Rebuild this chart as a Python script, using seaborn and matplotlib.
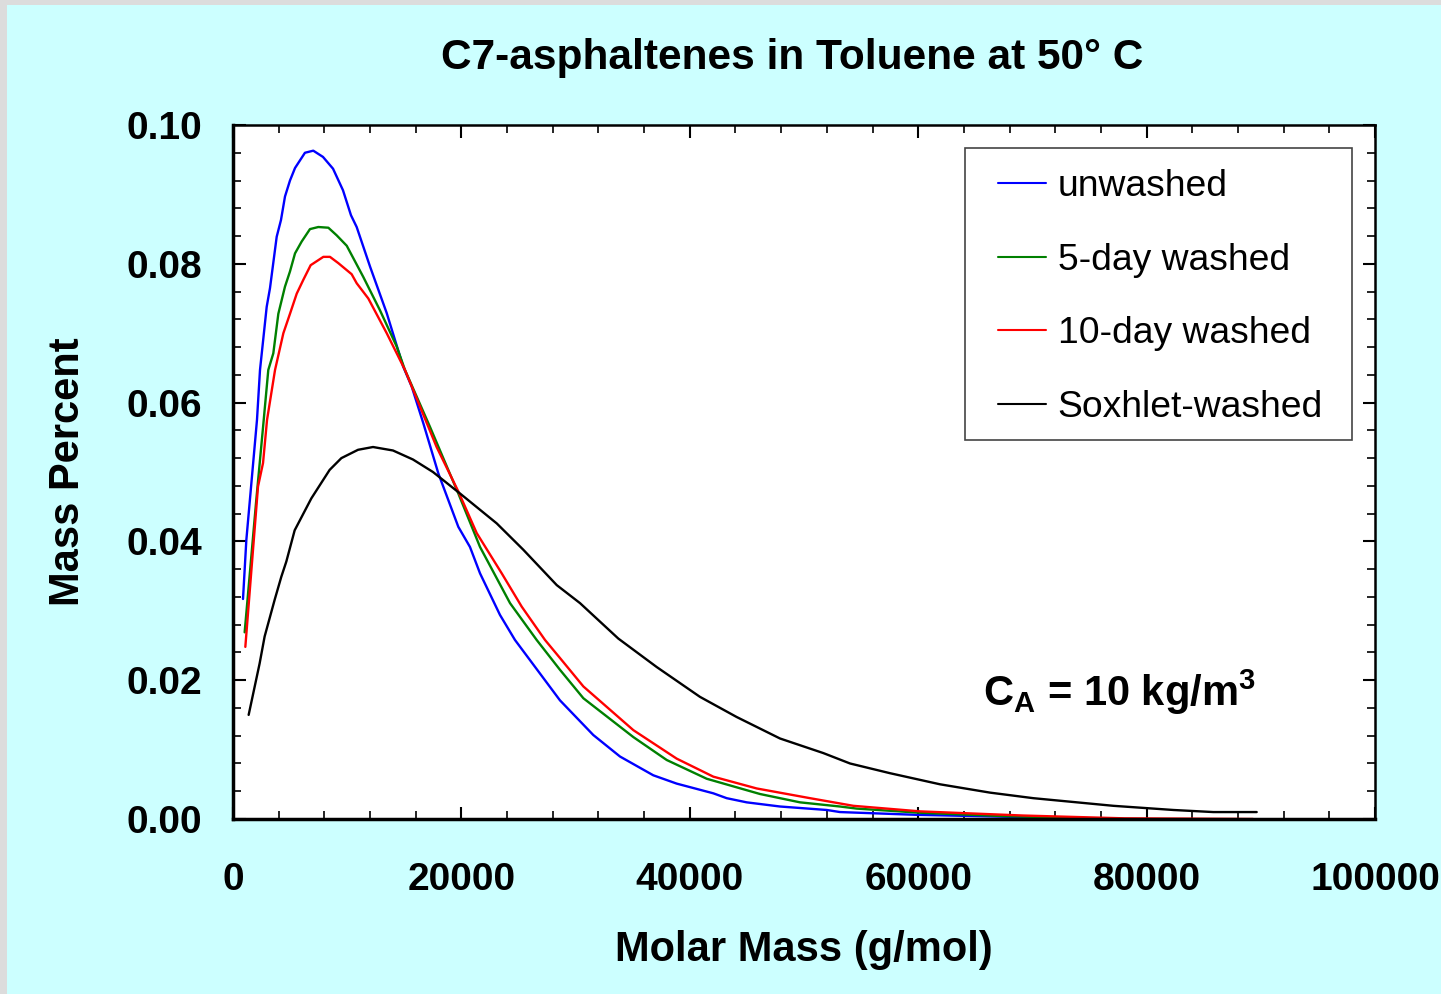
import numpy as np
import pandas as pd
import matplotlib
matplotlib.use("Agg")
import matplotlib.pyplot as plt
from matplotlib.patches import Rectangle
import seaborn as sns

# ---- data ----
unwashed_x = [876, 1168, 2100, 2364, 2950, 3240, 3826, 4200, 4553, 4990, 5430, 6300, 7030,
              7880, 8760, 9630, 10330, 10830, 12000, 13460, 14900, 15650, 16670, 17980, 19730,
              20750, 21630, 23380, 24690, 28630, 31550, 33890, 36800, 38850, 42060, 43230,
              44980, 47900, 51990, 53150, 59870, 74170]
unwashed_y = [0.0317, 0.0402, 0.0575, 0.0647, 0.0738, 0.0765, 0.0839, 0.0863, 0.0897, 0.0920,
              0.0938, 0.0960, 0.0963, 0.0954, 0.0937, 0.0906, 0.0870, 0.0853, 0.0796, 0.0729,
              0.0652, 0.0623, 0.0570, 0.0498, 0.0421, 0.0392, 0.0354, 0.0294, 0.0258, 0.0171,
              0.0121, 0.0090, 0.0063, 0.0051, 0.0037, 0.0030, 0.0024, 0.0018, 0.0013, 0.0010,
              0.0006, 0.0001]

day5_x = [1020, 2040, 2690, 3090, 3530, 3970, 4550, 4990, 5430, 6010, 6740, 7470, 8350, 9080,
          9960, 10540, 11410, 12870, 14330, 15060, 17250, 19730, 21630, 24260, 26590, 28630,
          30680, 35060, 37980, 41480, 46150, 49650, 53150, 54610, 60160, 67750, 78000]
day5_y = [0.0269, 0.0460, 0.0575, 0.0647, 0.0671, 0.0728, 0.0767, 0.0789, 0.0815, 0.0832,
          0.0850, 0.0853, 0.0852, 0.0841, 0.0826, 0.0808, 0.0781, 0.0733, 0.0681, 0.0647,
          0.0565, 0.0469, 0.0392, 0.0311, 0.0258, 0.0215, 0.0174, 0.0118, 0.0085, 0.0058,
          0.0036, 0.0024, 0.0018, 0.0015, 0.0009, 0.0004, 0.0000]

day10_x = [1080, 2190, 2630, 2980, 3680, 4410, 4990, 5580, 6160, 6800, 7910, 8490, 9220, 10390,
           10830, 11850, 13460, 15060, 17830, 19730, 21340, 23530, 25280, 27320, 28630, 30680,
           35060, 38850, 42060, 45860, 50530, 54320, 60160, 69200, 77960, 89320]
day10_y = [0.0248, 0.0479, 0.0513, 0.0575, 0.0647, 0.0700, 0.0728, 0.0757, 0.0777, 0.0798,
           0.0810, 0.0810, 0.0801, 0.0785, 0.0772, 0.0750, 0.0700, 0.0647, 0.0536, 0.0472,
           0.0412, 0.0354, 0.0306, 0.0258, 0.0232, 0.0191, 0.0128, 0.0087, 0.0061, 0.0044,
           0.0030, 0.0019, 0.0011, 0.0005, 0.0001, 0.0000]

soxhlet_x = [1370, 2330, 2770, 3650, 4230, 4670, 5400, 6860, 8460, 9490, 10950, 12260, 14010,
             15760, 17510, 19880, 23090, 25420, 28350, 30390, 33740, 37100, 40890, 44100,
             47900, 51690, 54030, 57530, 61910, 66290, 70080, 77090, 82340, 85840, 89640]
soxhlet_y = [0.0150, 0.0224, 0.0263, 0.0316, 0.0349, 0.0371, 0.0416, 0.0462, 0.0503, 0.0520,
             0.0532, 0.0536, 0.0531, 0.0518, 0.0500, 0.0469, 0.0426, 0.0388, 0.0337, 0.0311,
             0.0260, 0.0219, 0.0176, 0.0147, 0.0116, 0.0095, 0.0080, 0.0066, 0.0050, 0.0038,
             0.0030, 0.0019, 0.0013, 0.0010, 0.0010]

series_names = ["unwashed", "5-day washed", "10-day washed", "Soxhlet-washed"]
series_colors = ["#0000ff", "#008000", "#ff0000", "#000000"]

x_ticks = [0, 20000, 40000, 60000, 80000, 100000]
y_ticks = [0.00, 0.02, 0.04, 0.06, 0.08, 0.10]

# ---- long table for seaborn ----
frames = []
for name, xs, ys in zip(series_names,
                        [unwashed_x, day5_x, day10_x, soxhlet_x],
                        [unwashed_y, day5_y, day10_y, soxhlet_y]):
    frames.append(pd.DataFrame({"mass": xs, "pct": ys, "sample": name}))
df = pd.concat(frames, ignore_index=True)

# ---- style ----
sns.set_theme(style="ticks")
plt.rcParams["font.family"] = ["Liberation Sans", "DejaVu Sans"]
plt.rcParams["text.color"] = "black"
plt.rcParams["axes.labelcolor"] = "black"
plt.rcParams["xtick.color"] = "black"
plt.rcParams["ytick.color"] = "black"
plt.rcParams["mathtext.fontset"] = "custom"
plt.rcParams["mathtext.rm"] = "Liberation Sans:bold"
plt.rcParams["mathtext.bf"] = "Liberation Sans:bold"
plt.rcParams["mathtext.it"] = "Liberation Sans:bold"

W, H = 1441, 994
bg = "#ccffff"
fig = plt.figure(figsize=(W / 100, H / 100), dpi=100, facecolor=bg)
# light grey frame strips on the left and top edges
fig.patches.append(Rectangle((0, 0), 7 / W, 1, transform=fig.transFigure,
                             facecolor="#dcdcdc", edgecolor="none", zorder=0))
fig.patches.append(Rectangle((0, 1 - 5 / H), 1, 5 / H, transform=fig.transFigure,
                             facecolor="#dcdcdc", edgecolor="none", zorder=0))

ax = fig.add_axes([233 / W, 1 - 819 / H, (1375 - 233) / W, (819 - 125) / H])
ax.set_facecolor("white")

sns.lineplot(data=df, x="mass", y="pct", hue="sample", hue_order=series_names,
             palette=series_colors, sort=False, estimator=None, linewidth=1.7, ax=ax)

ax.set_xlim(0, 100000)
ax.set_ylim(0, 0.10)
ax.set_xticks(x_ticks)
ax.set_xticklabels([f"{v:d}" for v in x_ticks])
ax.set_yticks(y_ticks)
ax.set_yticklabels([f"{v:.2f}" for v in y_ticks])
ax.set_xticks(np.arange(0, 100001, 4000), minor=True)
ax.set_yticks(np.arange(0, 0.1001, 0.004), minor=True)

ax.tick_params(which="major", direction="in", length=9, width=1.5, top=True, right=True,
               labelsize=28, color="black", labelcolor="black")
ax.tick_params(which="minor", direction="in", length=6, width=1.2, top=True, right=True,
               color="black")
ax.tick_params(axis="x", which="major", pad=31)
ax.tick_params(axis="y", which="major", pad=22)
for lab in ax.get_xticklabels() + ax.get_yticklabels():
    lab.set_fontweight("bold")

for side in ["left", "bottom"]:
    ax.spines[side].set_linewidth(2.5)
for side in ["top", "right"]:
    ax.spines[side].set_linewidth(1.8)
for s in ax.spines.values():
    s.set_color("black")

ax.set_xlabel("Molar Mass (g/mol)", fontsize=30, fontweight="bold", labelpad=23)
ax.set_ylabel("Mass Percent", fontsize=30, fontweight="bold", labelpad=28)
ax.set_title("C7-asphaltenes in Toluene at 50° C", fontsize=30.5, fontweight="bold",
             pad=40, x=0.49)

ax.text(0.657, 0.182, r"$\mathbf{C_A}$ = 10 kg/m$^{\mathbf{3}}$", transform=ax.transAxes,
        fontsize=30, fontweight="bold", ha="left", va="center")

# legend frame box (drawn inside the axes, below the legend entries)
ax.add_patch(Rectangle((965 / W, 1 - 440 / H), (1352 - 965) / W, (440 - 148) / H,
                       transform=fig.transFigure, facecolor="white",
                       edgecolor="#444444", linewidth=1.2, zorder=4, clip_on=False))

handles, labels = ax.get_legend_handles_labels()
leg = ax.legend(handles, labels, loc="upper left",
                bbox_to_anchor=((998 - 233) / 1142, (819 - 169) / 694),
                fontsize=26.8, frameon=False, handlelength=1.3,
                handletextpad=0.3, labelspacing=1.04, borderpad=0.0, borderaxespad=0)
leg.set_zorder(6)
for ln in leg.get_lines():
    ln.set_linewidth(1.5)
for t in leg.get_texts():
    t.set_color("black")

fig.savefig("out.png", dpi=100, facecolor=bg)
